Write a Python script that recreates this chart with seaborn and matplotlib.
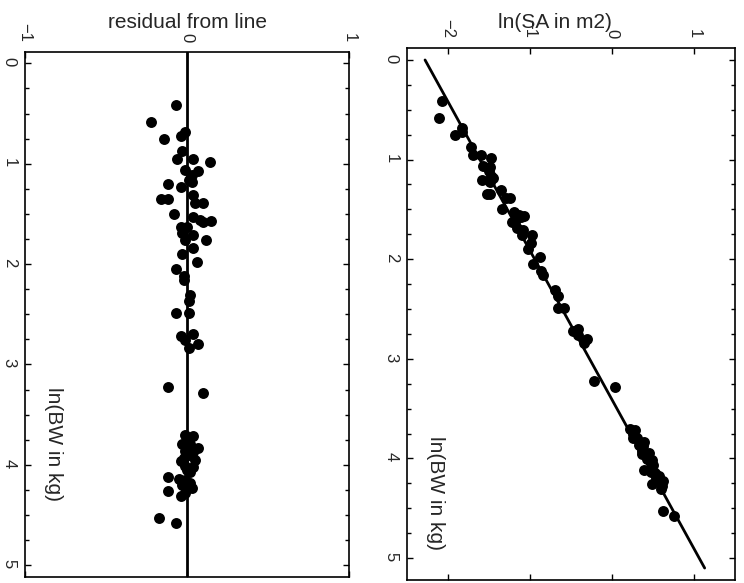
import matplotlib
matplotlib.use("Agg")
import matplotlib.pyplot as plt
import seaborn as sns
import pandas as pd
from matplotlib.ticker import MultipleLocator, FixedLocator

sns.set_theme(style="white")
plt.rcParams['font.family'] = ['Liberation Sans', 'DejaVu Sans']

# ln(BW in kg)
bw = [0.415, 0.58, 0.75, 0.72, 0.68, 0.87, 0.95, 0.95, 0.98, 1.06,
      1.07, 1.11, 1.16, 1.20, 1.23, 1.18, 1.35, 1.35, 1.31, 1.39,
      1.39, 1.50, 1.53, 1.56, 1.57, 1.58, 1.63, 1.63, 1.69, 1.71,
      1.76, 1.76, 1.84, 1.90, 1.98, 2.05, 2.12, 2.16, 2.31, 2.37,
      2.49, 2.49, 2.72, 2.70, 2.76, 2.80, 2.84, 3.22, 3.28, 3.70,
      3.71, 3.79, 3.79, 3.83, 3.87, 3.90, 3.95, 3.96, 4.01, 4.02,
      4.07, 4.12, 4.14, 4.15, 4.23, 4.26, 4.31, 4.28, 4.53, 4.58,
      3.75, 3.86, 3.93, 4.05, 4.18, 4.20]
# residual from line
residual = [-0.07, -0.22, -0.14, -0.04, -0.01, -0.03, -0.06, 0.04, 0.14, -0.01,
            0.07, 0.03, 0.01, -0.12, -0.04, 0.03, -0.16, -0.12, 0.04, 0.05,
            0.10, -0.08, 0.04, 0.08, 0.15, 0.10, -0.04, 0.00, -0.03, 0.04,
            -0.01, 0.12, 0.04, -0.03, 0.06, -0.07, -0.02, -0.02, 0.02, 0.01,
            -0.07, 0.01, -0.04, 0.04, -0.01, 0.07, 0.01, -0.12, 0.10, -0.01,
            0.04, -0.03, 0.02, 0.07, 0.04, 0.01, 0.05, -0.04, -0.01, 0.04,
            0.02, -0.12, -0.05, -0.01, 0.03, -0.12, -0.04, -0.01, -0.17, -0.07,
            0.00, -0.01, -0.02, 0.00, 0.02, -0.03]
# ln(SA in m2)
ln_sa = [-2.07, -2.11, -1.91, -1.83, -1.83, -1.72, -1.70, -1.60, -1.48, -1.57,
         -1.49, -1.50, -1.48, -1.59, -1.49, -1.45, -1.53, -1.49, -1.35, -1.29,
         -1.24, -1.34, -1.20, -1.14, -1.07, -1.11, -1.22, -1.18, -1.16, -1.08,
         -1.10, -0.97, -0.99, -1.02, -0.88, -0.96, -0.86, -0.84, -0.69, -0.66,
         -0.66, -0.58, -0.48, -0.41, -0.42, -0.31, -0.34, -0.22, 0.04, 0.22,
         0.28, 0.26, 0.31, 0.39, 0.38, 0.37, 0.45, 0.37, 0.43, 0.49,
         0.50, 0.39, 0.48, 0.52, 0.62, 0.49, 0.60, 0.61, 0.62, 0.76,
         0.26, 0.33, 0.37, 0.47, 0.57, 0.54]
# fitted line end points
fit_bw = [0.0, 5.1]
fit_sa = [-2.28, 1.13]

df = pd.DataFrame({"bw": bw, "residual": residual, "ln_sa": ln_sa})
fit = pd.DataFrame({"bw": fit_bw, "ln_sa": fit_sa})

W, H = 744, 583
fig = plt.figure(figsize=(W / 100, H / 100), dpi=100)
ax1 = fig.add_axes([25 / W, 1 - 577 / H, 324 / W, 525 / H])
ax2 = fig.add_axes([407 / W, 1 - 580 / H, 328 / W, 532 / H])

# left: residuals
ax1.axvline(0, color="black", lw=2, zorder=1)
sns.scatterplot(data=df, x="residual", y="bw", ax=ax1, color="black",
                s=62, linewidth=0, zorder=3)
ax1.set_xlim(-1, 1)
ax1.set_ylim(5.117, -0.113)
ax1.set_xticks([-1, 0, 1])

# right: ln(SA) vs ln(BW)
sns.lineplot(data=fit, x="ln_sa", y="bw", ax=ax2, color="black", lw=2,
             sort=False, estimator=None, zorder=1)
sns.scatterplot(data=df, x="ln_sa", y="bw", ax=ax2, color="black",
                s=62, linewidth=0, zorder=3)
ax2.set_xlim(-2.5, 1.5)
ax2.set_ylim(5.22, -0.12)
ax2.set_xticks([-2, -1, 0, 1])

for ax in (ax1, ax2):
    ax.set_xlabel("")
    ax.set_ylabel("")
    ax.set_yticks([0, 1, 2, 3, 4, 5])
    ax.yaxis.set_minor_locator(MultipleLocator(0.25))
    for s in ax.spines.values():
        s.set_color("black")
        s.set_linewidth(1.2)
    ax.xaxis.tick_top()
    ax.tick_params(axis="x", which="major", top=True, bottom=True,
                   labeltop=True, labelbottom=False, direction="in",
                   length=4, width=1, color="black", labelrotation=-90,
                   labelsize=12, pad=7)
    ax.tick_params(axis="y", which="major", left=True, right=True,
                   labelleft=True, labelright=False, direction="in",
                   length=4, width=1, color="black", labelrotation=-90,
                   labelsize=12, pad=6)
    ax.tick_params(axis="y", which="minor", left=True, right=True,
                   direction="in", length=3, width=1, color="black")

fig.text(187 / W, 1 - 28 / H, "residual from line", ha="center",
         va="baseline", fontsize=15)
fig.text(555 / W, 1 - 28 / H, "ln(SA in m2)", ha="center",
         va="baseline", fontsize=15)
fig.text(53 / W, 1 - 444 / H, "ln(BW in kg)", ha="center", va="center",
         rotation=-90, fontsize=15)
fig.text(436 / W, 1 - 493 / H, "ln(BW in kg)", ha="center", va="center",
         rotation=-90, fontsize=15)

fig.savefig("out.png", dpi=100)
